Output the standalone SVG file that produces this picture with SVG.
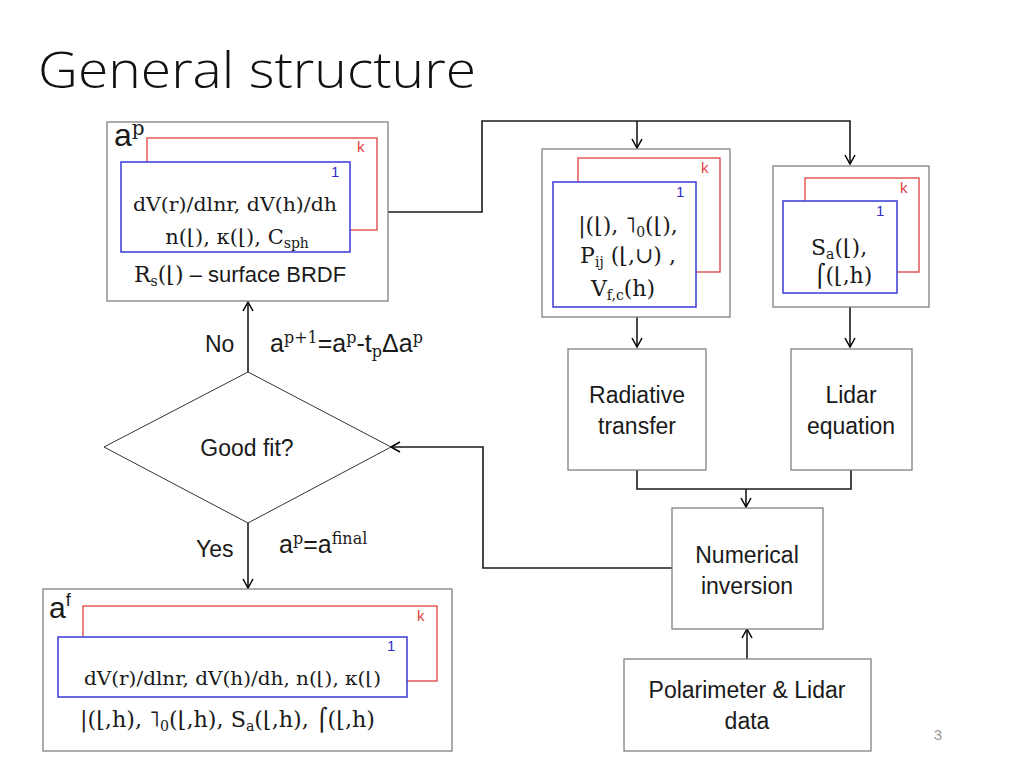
<svg xmlns="http://www.w3.org/2000/svg" width="1024" height="768" viewBox="0 0 1024 768">
<defs>
<marker id="arr" markerWidth="12" markerHeight="12" refX="10" refY="6" orient="auto" markerUnits="userSpaceOnUse">
<path d="M1,1 L10,6 L1,11" fill="none" stroke="#000" stroke-width="1.5"/>
</marker>
<style>
.box{fill:#fff;stroke:#808080;stroke-width:1.3}
.red{fill:#fff;stroke:#e04040;stroke-width:1.3}
.blue{fill:#fff;stroke:#3838d8;stroke-width:1.5}
.conn{fill:none;stroke:#1a1a1a;stroke-width:1.6}
.sans{font-family:"Liberation Sans",Arial,sans-serif;fill:#1a1a1a}
.ser{font-family:"DejaVu Serif","Liberation Serif",serif;fill:#1a1a1a}
.lbl{font-size:23px}
.kr{font-family:"Liberation Sans",Arial,sans-serif;font-size:15px;fill:#e04040}
.kb{font-family:"Liberation Sans",Arial,sans-serif;font-size:15px;fill:#3030c8}
</style>
</defs>
<rect width="1024" height="768" fill="#fff"/>
<text x="38" y="88" font-family="'Open Sans',sans-serif" font-weight="300" font-size="50" fill="#111" textLength="438" lengthAdjust="spacingAndGlyphs">General structure</text>

<g id="connectors">
<polyline class="conn" points="388,212 482,212 482,121 850,121 850,164" marker-end="url(#arr)"/>
<line class="conn" x1="637" y1="121" x2="637" y2="148" marker-end="url(#arr)"/>
<line class="conn" x1="637" y1="317" x2="637" y2="347" marker-end="url(#arr)"/>
<line class="conn" x1="850" y1="307" x2="850" y2="347" marker-end="url(#arr)"/>
<polyline class="conn" points="637,470 637,489 851,489 851,470"/>
<line class="conn" x1="746" y1="489" x2="746" y2="507" marker-end="url(#arr)"/>
<polyline class="conn" points="672,568 483,568 483,447 391,447" marker-end="url(#arr)"/>
<line class="conn" x1="248" y1="372" x2="248" y2="302" marker-end="url(#arr)"/>
<line class="conn" x1="248" y1="523" x2="248" y2="588" marker-end="url(#arr)"/>
<line class="conn" x1="747" y1="659" x2="747" y2="629" marker-end="url(#arr)"/>
</g>

<g id="ap-box">
<rect class="box" x="107" y="122" width="281" height="179"/>
<rect class="red" x="147" y="138" width="230" height="92"/>
<text class="kr" x="357" y="152">k</text>
<rect class="blue" x="121" y="162" width="229" height="90"/>
<text class="kb" x="331" y="177">1</text>
<text class="sans" x="114" y="146" font-size="32">a<tspan class="ser" font-size="20" dy="-11">p</tspan></text>
<text class="ser" x="133" y="211" font-size="19" textLength="204" lengthAdjust="spacingAndGlyphs">dV(r)/dlnr, dV(h)/dh</text>
<text class="ser" x="237" y="244" font-size="21" text-anchor="middle">n(⌊), κ(⌊), C<tspan font-size="14" dy="4">sph</tspan></text>
<text x="134" y="282" font-size="22"><tspan class="ser">R<tspan font-size="14" dy="4">s</tspan><tspan dy="-4">(⌊)</tspan></tspan><tspan class="sans"> – surface BRDF</tspan></text>
</g>

<g id="rt-inputs">
<rect class="box" x="542" y="149" width="188" height="168"/>
<rect class="red" x="578" y="158" width="142" height="114"/>
<text class="kr" x="701" y="173">k</text>
<rect class="blue" x="553" y="182" width="143" height="125"/>
<text class="kb" x="676" y="197">1</text>
<text class="ser" x="628" y="233" font-size="22" text-anchor="middle">|(⌊), ˥<tspan font-size="14" dy="4">0</tspan><tspan dy="-4">(⌊),</tspan></text>
<text class="ser" x="628" y="263" font-size="22" text-anchor="middle">P<tspan font-size="14" dy="4">ij</tspan><tspan dy="-4"> (⌊,∪) ,</tspan></text>
<text class="ser" x="623" y="296" font-size="22" text-anchor="middle">V<tspan font-size="14" dy="4">f,c</tspan><tspan dy="-4">(h)</tspan></text>
</g>

<g id="lidar-inputs">
<rect class="box" x="773" y="166" width="156" height="141"/>
<rect class="red" x="805" y="178" width="114" height="94"/>
<text class="kr" x="900" y="193">k</text>
<rect class="blue" x="783" y="201" width="114" height="92"/>
<text class="kb" x="876" y="216">1</text>
<text class="ser" x="811" y="255" font-size="22">S<tspan font-size="14" dy="4">a</tspan><tspan dy="-4">(⌊),</tspan></text>
<text class="ser" x="814" y="283" font-size="22">⌠(⌊,h)</text>
</g>

<g id="radiative-transfer">
<rect class="box" x="568" y="349" width="138" height="121"/>
<text class="sans lbl" x="637" y="403" text-anchor="middle">Radiative</text>
<text class="sans lbl" x="637" y="434" text-anchor="middle">transfer</text>
</g>

<g id="lidar-equation">
<rect class="box" x="791" y="349" width="121" height="121"/>
<text class="sans lbl" x="851" y="403" text-anchor="middle">Lidar</text>
<text class="sans lbl" x="851" y="434" text-anchor="middle">equation</text>
</g>

<g id="numerical-inversion">
<rect class="box" x="672" y="508" width="151" height="121"/>
<text class="sans lbl" x="747" y="563" text-anchor="middle">Numerical</text>
<text class="sans lbl" x="747" y="594" text-anchor="middle">inversion</text>
</g>

<g id="data">
<rect class="box" x="624" y="659" width="247" height="92"/>
<text class="sans lbl" x="747" y="698" text-anchor="middle">Polarimeter &amp; Lidar</text>
<text class="sans lbl" x="747" y="729" text-anchor="middle">data</text>
</g>

<g id="good-fit">
<polygon points="248,372 391,447 248,523 104,447" fill="#fff" stroke="#333" stroke-width="1"/>
<text class="sans lbl" x="247" y="456" text-anchor="middle">Good fit?</text>
</g>

<g id="labels">
<text class="sans lbl" x="205" y="352">No</text>
<text class="sans" x="270" y="352" font-size="25">a<tspan class="ser" font-size="16" dy="-9">p+1</tspan><tspan dy="9">=a</tspan><tspan class="ser" font-size="16" dy="-9">p</tspan><tspan dy="9">-t</tspan><tspan class="ser" font-size="16" dy="5">p</tspan><tspan dy="-5">Δa</tspan><tspan class="ser" font-size="16" dy="-9">p</tspan></text>
<text class="sans lbl" x="196" y="557">Yes</text>
<text class="sans" x="279" y="553" font-size="25">a<tspan class="ser" font-size="16" dy="-9">p</tspan><tspan dy="9">=a</tspan><tspan class="ser" font-size="16" dy="-9">final</tspan></text>
<text class="sans" x="938" y="740" font-size="15" text-anchor="middle" style="fill:#999">3</text>
</g>

<g id="af-box">
<rect class="box" x="43" y="589" width="409" height="162"/>
<rect class="red" x="83" y="606" width="354" height="75"/>
<text class="kr" x="417" y="621">k</text>
<rect class="blue" x="58" y="637" width="349" height="60"/>
<text class="kb" x="387" y="651">1</text>
<text class="sans" x="49" y="618" font-size="30">a<tspan font-size="18" dy="-12">f</tspan></text>
<text class="ser" x="84" y="685" font-size="18" textLength="297" lengthAdjust="spacingAndGlyphs">dV(r)/dlnr, dV(h)/dh, n(⌊), κ(⌊)</text>
<text class="ser" x="80" y="727" font-size="22" textLength="295" lengthAdjust="spacingAndGlyphs">|(⌊,h), ˥<tspan font-size="14" dy="4">0</tspan><tspan dy="-4">(⌊,h), S</tspan><tspan font-size="14" dy="4">a</tspan><tspan dy="-4">(⌊,h), ⌠(⌊,h)</tspan></text>
</g>
</svg>
